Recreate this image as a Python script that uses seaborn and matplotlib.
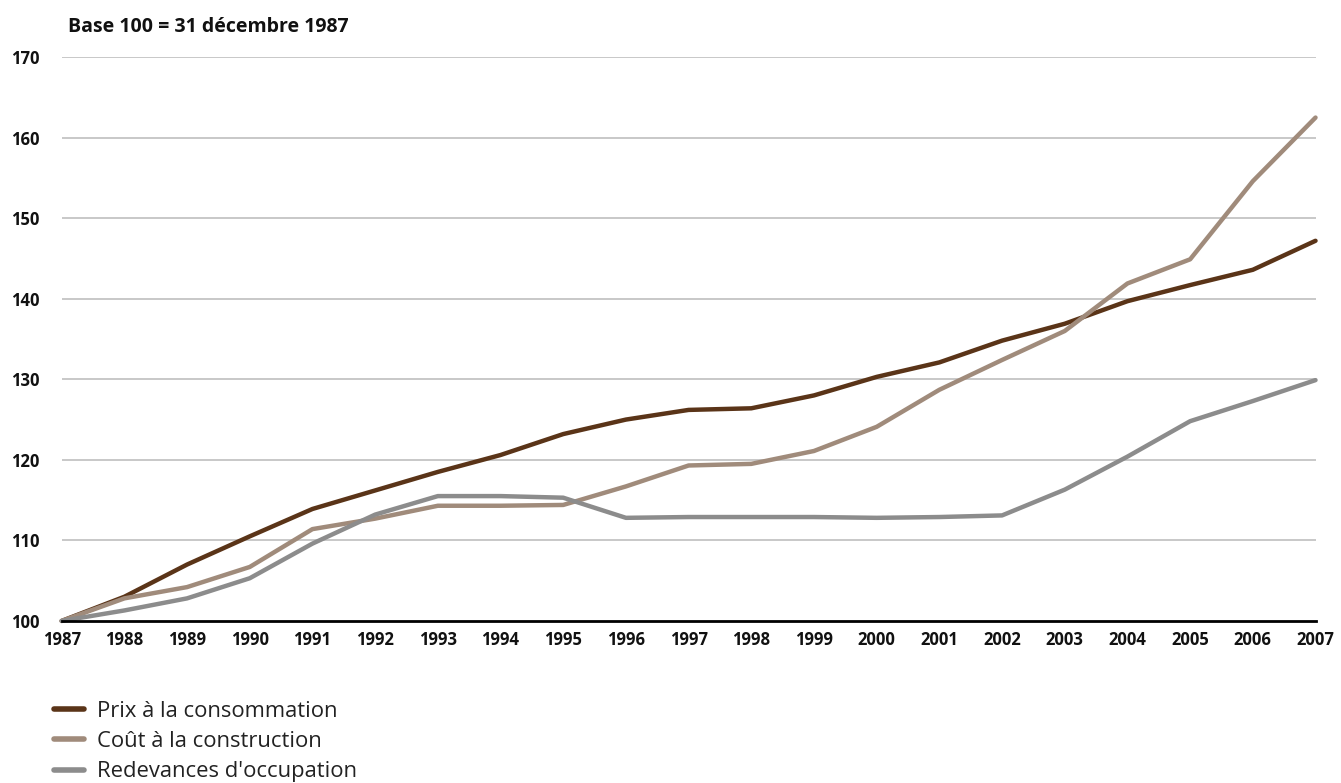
import pandas as pd
import matplotlib.pyplot as plt
import seaborn as sns

# Données (indices, base 100 = 31.12.1987)
annees = list(range(1987, 2008))
prix_consommation = [100.0, 103.0, 107.0, 110.5, 113.9, 116.2, 118.5, 120.6, 123.2, 125.0,
                     126.2, 126.4, 128.0, 130.3, 132.1, 134.8, 136.9, 139.7, 141.7, 143.6, 147.2]
cout_construction = [100.0, 102.8, 104.2, 106.7, 111.4, 112.7, 114.3, 114.3, 114.4, 116.7,
                     119.3, 119.5, 121.1, 124.1, 128.7, 132.4, 136.0, 141.9, 144.9, 154.6, 162.5]
redevances = [100.0, 101.3, 102.8, 105.3, 109.6, 113.2, 115.5, 115.5, 115.3, 112.8,
              112.9, 112.9, 112.9, 112.8, 112.9, 113.1, 116.3, 120.4, 124.8, 127.3, 129.9]
series = ["Prix à la consommation", "Coût à la construction", "Redevances d'occupation"]
couleurs = ["#5a3418", "#a08b7b", "#8c8c8c"]

df = pd.DataFrame({
    "Année": annees * 3,
    "Indice": prix_consommation + cout_construction + redevances,
    "Série": [series[0]] * len(annees) + [series[1]] * len(annees) + [series[2]] * len(annees),
})

sns.set_theme(style="white")
plt.rcParams['font.family'] = ['Open Sans', 'DejaVu Sans']

fig = plt.figure(figsize=(13.41, 7.83), dpi=100)
ax = fig.add_axes([0.046, 0.207, 0.935, 0.720])

sns.lineplot(data=df, x="Année", y="Indice", hue="Série", hue_order=series,
             palette=couleurs, linewidth=3.2, ax=ax, legend=False, clip_on=False)

ax.set_xlim(1987, 2007)
ax.set_ylim(100, 170)
ax.set_xticks(annees)
ax.set_yticks(range(100, 171, 10))
ax.set_xlabel("")
ax.set_ylabel("")

for y in range(110, 171, 10):
    ax.axhline(y, color="#c8c8c8", linewidth=1.4, zorder=0)

for s in ["top", "right", "left"]:
    ax.spines[s].set_visible(False)
ax.spines["bottom"].set_color("black")
ax.spines["bottom"].set_linewidth(2)
ax.spines["bottom"].set_zorder(5)

ax.tick_params(axis="x", direction="inout", length=13, width=1.8, color="black",
               labelsize=12, pad=1, labelcolor="#111111")
ax.tick_params(axis="y", length=0, labelsize=12, pad=16, labelcolor="#111111")
for lab in ax.get_xticklabels() + ax.get_yticklabels():
    lab.set_fontweight("bold")

fig.text(0.051, 0.965, "Base 100 = 31 décembre 1987", fontsize=14,
         fontweight="bold", va="center", ha="left", color="#111111")

handles = [plt.Line2D([0], [0], color=c, linewidth=4, solid_capstyle="round") for c in couleurs]
fig.legend(handles, series, loc="upper left", bbox_to_anchor=(0.034, 0.116),
           frameon=False, fontsize=15.8, handlelength=1.35, handletextpad=0.6,
           labelspacing=0.42, borderaxespad=0, labelcolor="#222222")

fig.savefig("out.png", dpi=100)
